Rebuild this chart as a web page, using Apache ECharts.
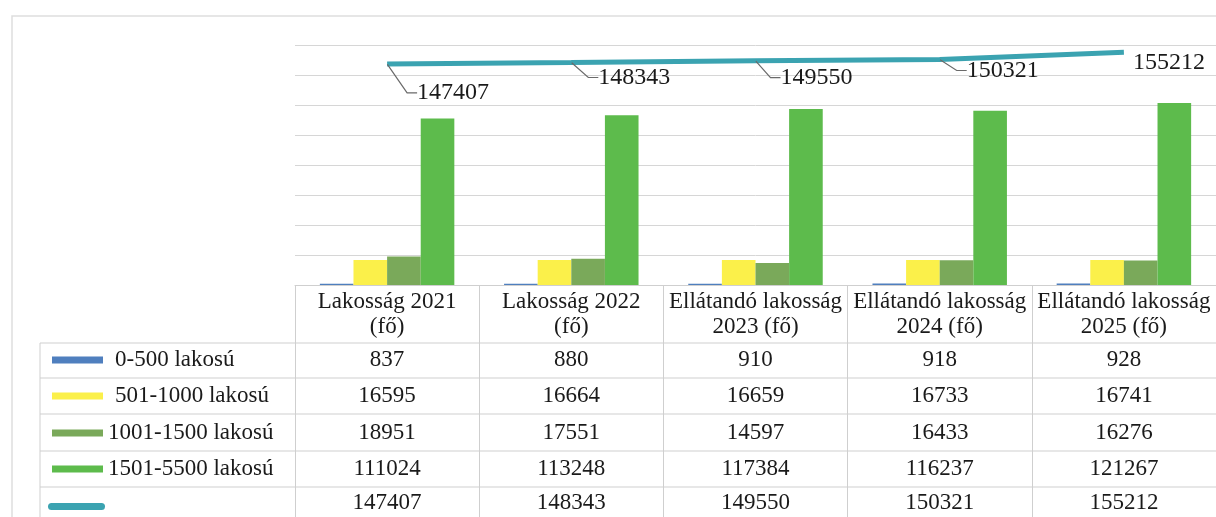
<!DOCTYPE html>
<html>
<head>
<meta charset="utf-8">
<script src="https://cdn.jsdelivr.net/npm/echarts@6/dist/echarts.min.js"></script>
<style>
html,body{margin:0;padding:0;background:#fff;}
#chart{width:1216px;height:517px;}
</style>
</head>
<body>
<div id="chart"></div>
<script>
// ---- data ----
const categories = ["Lakosság 2021\n(fő)", "Lakosság 2022\n(fő)", "Ellátandó lakosság\n2023 (fő)", "Ellátandó lakosság\n2024 (fő)", "Ellátandó lakosság\n2025 (fő)"];
const seriesNames = ["0-500 lakosú", "501-1000 lakosú", "1001-1500 lakosú", "1501-5500 lakosú"];
const s0_500 = [837, 880, 910, 918, 928];
const s501_1000 = [16595, 16664, 16659, 16733, 16741];
const s1001_1500 = [18951, 17551, 14597, 16433, 16276];
const s1501_5500 = [111024, 113248, 117384, 116237, 121267];
const totals = [147407, 148343, 149550, 150321, 155212];

// ---- styles ----
const barColors = ["#4f7fbe", "#fbf04a", "#7aa95a", "#5dbb4c"];
const lineColor = "#3ba3b1";
const FONT = "Liberation Serif";
const tableLine = "#cfcfcf";
const textColor = "#1a1a1a";
const labelShift = [[66, 29], [63, 15], [61, 17], [63, 11], [45, 11]];
const showLeader = [true, true, true, true, false];

const barValues = [s0_500, s501_1000, s1001_1500, s1501_5500];
const tableRows = [s0_500, s501_1000, s1001_1500, s1501_5500, totals];
const rowCenters = [360, 396, 433, 469, 503];
const gridBottomY = 285;

const chart = echarts.init(document.getElementById('chart'), null, {renderer: 'canvas'});

const xAxes = [{
  type: 'category', gridIndex: 0, data: categories, position: 'bottom',
  axisLine: {show: true, lineStyle: {color: tableLine, width: 1}},
  axisTick: {show: true, length: 232, lineStyle: {color: tableLine, width: 1}},
  axisLabel: {interval: 0, margin: 29, verticalAlign: 'middle', fontFamily: FONT, fontSize: 23, lineHeight: 25, color: textColor},
  splitLine: {show: false}
}];
tableRows.forEach((row, r) => {
  xAxes.push({
    type: 'category', gridIndex: 0, data: categories, position: 'bottom',
    offset: rowCenters[r] - gridBottomY,
    axisLine: {show: false}, axisTick: {show: false}, splitLine: {show: false},
    axisLabel: {interval: 0, margin: 0, verticalAlign: 'middle', fontFamily: FONT, fontSize: 23, color: textColor,
      formatter: (v, i) => String(row[i])}
  });
});

const series = barValues.map((vals, i) => ({
  name: seriesNames[i], type: 'bar', xAxisIndex: 0, data: vals,
  barGap: '0%', barCategoryGap: '27%',
  itemStyle: {color: barColors[i]}
}));
series.push({
  name: 'Összesen', type: 'line', xAxisIndex: 0,
  data: totals.map((v, i) => ({value: v, labelLine: {show: showLeader[i]}})),
  symbol: 'circle', symbolSize: 1, showSymbol: true,
  itemStyle: {color: 'rgba(0,0,0,0)', borderWidth: 0},
  lineStyle: {color: lineColor, width: 5},
  label: {show: true, position: 'inside', fontFamily: FONT, fontSize: 24, color: textColor},
  labelLine: {show: true, lineStyle: {color: '#6a6a6a', width: 1.2}, length2: 10},
  labelLayout: (p) => ({dx: labelShift[p.dataIndex][0], dy: labelShift[p.dataIndex][1]}),
  z: 5
});

// table structure + legend keys
const graphics = [
  {type: 'rect', shape: {x: 12, y: 16, width: 1300, height: 600}, style: {fill: 'none', stroke: '#dedede', lineWidth: 1.5}, silent: true},
  {type: 'line', shape: {x1: 40, y1: 343, x2: 40, y2: 517}, style: {stroke: tableLine, lineWidth: 1}}
];
[343, 378, 414, 451, 487].forEach(y => {
  graphics.push({type: 'line', shape: {x1: 40, y1: y, x2: 1216, y2: y}, style: {stroke: tableLine, lineWidth: 1}});
});
const textX = [115, 115, 108, 108];
seriesNames.forEach((n, i) => {
  graphics.push({type: 'rect', shape: {x: 52, y: rowCenters[i] - 3.5, width: 51, height: 7}, style: {fill: barColors[i]}});
  graphics.push({type: 'text', x: textX[i], y: rowCenters[i], style: {text: n, fontFamily: FONT, fontSize: 23, fill: textColor, verticalAlign: 'middle', align: 'left'}});
});
graphics.push({type: 'rect', shape: {x: 48, y: rowCenters[4] + 0, width: 57, height: 7, r: 3.5}, style: {fill: lineColor}});

chart.setOption({
  animation: false,
  backgroundColor: '#fff',
  grid: {left: 295, top: 45, width: 933, height: 240, containLabel: false},
  xAxis: xAxes,
  yAxis: {type: 'value', min: 0, max: 160000, interval: 20000,
    axisLine: {show: false}, axisTick: {show: false}, axisLabel: {show: false},
    splitLine: {show: true, lineStyle: {color: '#d6d6d6', width: 1}}},
  series: series,
  graphic: graphics
});
</script>
</body>
</html>
